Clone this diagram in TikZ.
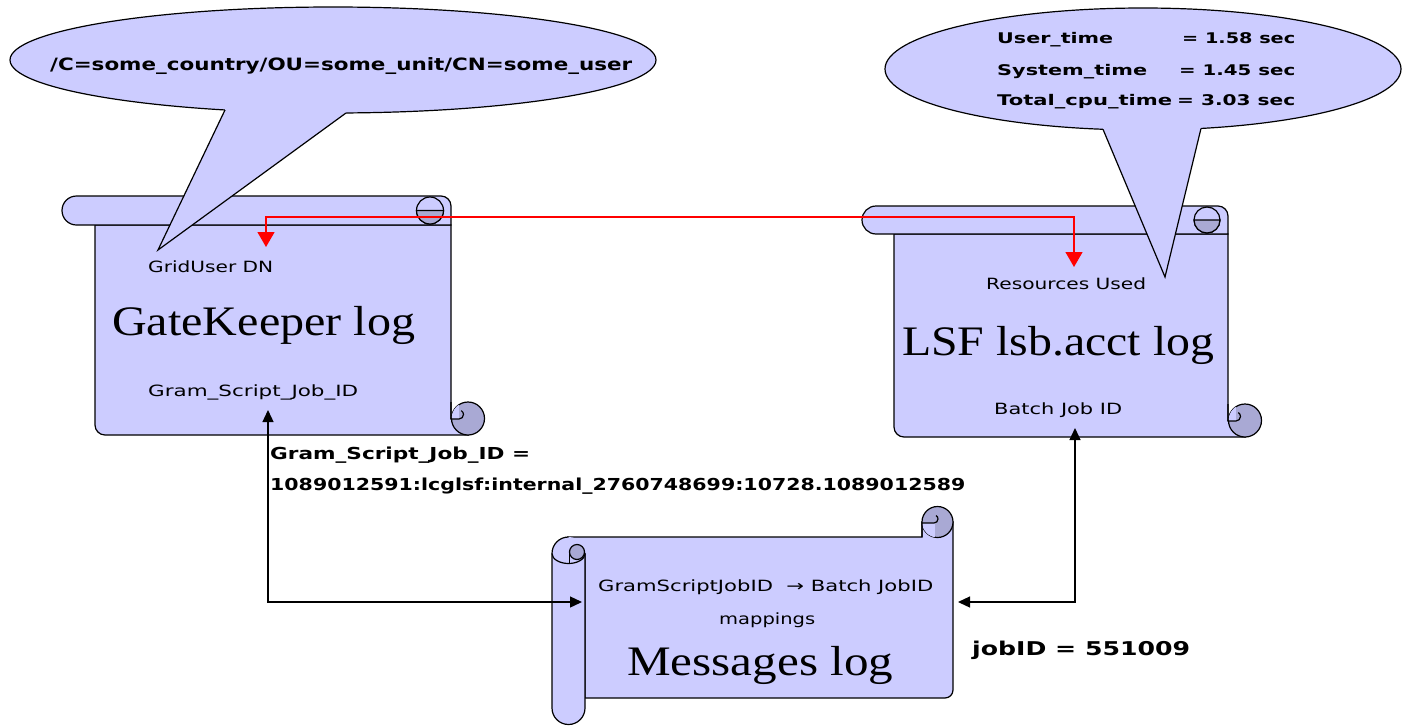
\documentclass[tikz,border=0pt]{standalone}
\usepackage{fontspec}
\setmainfont{Liberation Serif}
\setsansfont{DejaVu Sans}
\usetikzlibrary{arrows.meta}
\definecolor{scrollfill}{HTML}{CCCCFF}
\definecolor{curlfill}{HTML}{A9A9D4}
\newcommand\fitw[2]{\resizebox{#1pt}{\height}{#2}}
\tikzset{
  outline/.style={draw=black, line width=1.2pt},
  lbl/.style={anchor=base west, inner sep=0pt, font=\sffamily\fontsize{15.5}{18}\selectfont},
  blbl/.style={anchor=base west, inner sep=0pt, font=\sffamily\bfseries\fontsize{16.5}{18}\selectfont},
  logtitle/.style={anchor=base west, inner sep=0pt, font=\rmfamily\fontsize{42}{46}\selectfont},
  redarr/.style={draw=red, line width=1.3pt, {Triangle[length=15pt,width=17pt]}-{Triangle[length=15pt,width=17pt]}},
  blkarr/.style={draw=black, line width=1.3pt, {Triangle[length=12pt,width=11pt]}-{Triangle[length=12pt,width=11pt]}},
}
% horizontal scroll: #1 roll left, #2 body left, #3 right, #4 top, #5 roll height, #6 bottom
\newcommand\HScroll[6]{%
  \pgfmathsetmacro\hsh{#5/2}%
  \pgfmathsetmacro\hsc{#5/2-1}%
  \filldraw[fill=scrollfill, outline] (#2,#4+#5) -- (#2,#6-10) arc[start angle=180,end angle=90,radius=10]
     -- (#3+17,#6) -- (#3,#6-16.5) -- (#3,#4+#5) -- cycle;
  \filldraw[fill=curlfill, outline] (#3+17,#6-16.5) circle[radius=16.5];
  \begin{scope}
    \clip (#3+17,#6-16.5) circle[radius=16.5];
    \fill[scrollfill] (#3,#6-34) rectangle (#3+8,#6-16);
  \end{scope}
  \draw[outline] (#3,#6-33) -- (#3,#6-16) -- (#3+8,#6-16) arc[start angle=90,end angle=-60,radius=4.5];
  \filldraw[fill=scrollfill, outline] (#1+\hsh,#4) -- (#3-10,#4) arc[start angle=-90,end angle=0,radius=10]
     -- (#3,#4+#5) -- (#1+\hsh,#4+#5) arc[start angle=90,end angle=270,radius=\hsh] -- cycle;
  \filldraw[fill=scrollfill, outline] (#3-21,#4+\hsh) circle[radius=\hsc];
  \filldraw[fill=curlfill, outline] (#3-21-\hsc,#4+\hsh) arc[start angle=180,end angle=0,radius=\hsc] -- cycle;
}
\begin{document}
\begin{tikzpicture}[x=1pt,y=-1pt]
\useasboundingbox (0,0) rectangle (1403,726);
\fill[white] (0,0) rectangle (1403,726);

% ---- GateKeeper scroll
\HScroll{62}{95}{451}{196}{29}{435}
% ---- LSF scroll
\HScroll{862}{894}{1228}{206}{28}{437}

% ---- Messages scroll (vertical)
\filldraw[fill=scrollfill, outline] (568.5,537) -- (922,537) -- (922,522) -- (953,522) -- (953,690)
   arc[start angle=0,end angle=90,radius=8] -- (585,698) -- (585,553.5) -- cycle;
\filldraw[fill=curlfill, outline] (937.5,522) circle[radius=15.5];
\begin{scope}
  \clip (937.5,522) circle[radius=15.5];
  \fill[scrollfill] (922,523) rectangle (935,539);
\end{scope}
\draw[outline] (922,537) -- (922,523) -- (934,523) arc[start angle=90,end angle=-60,radius=4];
\fill[scrollfill] (552,553.5) arc[start angle=180,end angle=360,radius=16.5] -- (585,708)
   arc[start angle=0,end angle=180,radius=16.5] -- cycle;
\draw[outline] (585,553.5) -- (585,708) arc[start angle=0,end angle=180,radius=16.5] -- (552,553.5)
   arc[start angle=180,end angle=270,radius=16.5];
\draw[outline] (552,553.5) arc[start angle=180,end angle=0,x radius=16.5,y radius=10];
\filldraw[fill=curlfill, outline] (577,552) circle[radius=7.5];
\draw[outline] (569.5,552) -- (569.5,563);

% ---- callouts
\filldraw[fill=scrollfill, outline] (333,60) ellipse[x radius=323, y radius=53];
\fill[scrollfill] (225,110) -- (225,104) -- (346,106) -- (346,113) -- (158,250) -- cycle;
\draw[outline] (225,110) -- (158,250) -- (346,113);

\filldraw[fill=scrollfill, outline] (1143,69) ellipse[x radius=258, y radius=61];
\fill[scrollfill] (1103,129.3) -- (1103,123) -- (1201,122) -- (1201,128.4) -- (1165,277) -- cycle;
\draw[outline] (1103,129.3) -- (1165,277) -- (1201,128.4);

% ---- texts
\node[blbl, font=\sffamily\bfseries\fontsize{17}{18}\selectfont] (dn) at (50,70) {\fitw{582}{/C=some\_country/OU=some\_unit/CN=some\_user}};
\node[blbl, font=\sffamily\bfseries\fontsize{14.7}{16}\selectfont] (ut) at (997,43) {\fitw{116}{User\_time}};
\node[blbl, font=\sffamily\bfseries\fontsize{14.7}{16}\selectfont] (utv) at (1182,43) {\fitw{113}{= 1.58 sec}};
\node[blbl, font=\sffamily\bfseries\fontsize{14.7}{16}\selectfont] (st) at (997,75) {\fitw{150}{System\_time}};
\node[blbl, font=\sffamily\bfseries\fontsize{14.7}{16}\selectfont] (stv) at (1179,75) {\fitw{116}{= 1.45 sec}};
\node[blbl, font=\sffamily\bfseries\fontsize{14.7}{16}\selectfont] (tt) at (997,105) {\fitw{175}{Total\_cpu\_time}};
\node[blbl, font=\sffamily\bfseries\fontsize{14.7}{16}\selectfont] (ttv) at (1177,105) {\fitw{118}{= 3.03 sec}};

\node[lbl] (griduser) at (148,272) {\fitw{125}{GridUser DN}};
\node[logtitle] (gk) at (112,335) {\fitw{303}{GateKeeper log}};
\node[lbl] (gsj) at (148,396) {\fitw{210}{Gram\_Script\_Job\_ID}};

\node[lbl] (res) at (986,289) {\fitw{160}{Resources Used}};
\node[logtitle] (lsf) at (902,355) {\fitw{312}{LSF lsb.acct log}};
\node[lbl] (bj) at (994,414) {\fitw{128}{Batch Job ID}};

\node[lbl] (map1) at (598,591) {\fitw{335}{GramScriptJobID\ \ → Batch JobID}};
\node[lbl] (map2) at (719,624) {\fitw{96}{mappings}};
\node[logtitle] (msg) at (627,675) {\fitw{266}{Messages log}};

\node[blbl] (gsjeq) at (270,459) {\fitw{260}{Gram\_Script\_Job\_ID =}};
\node[blbl] (gsjval) at (270,490) {\fitw{695}{1089012591:lcglsf:internal\_2760748699:10728.1089012589}};
\node[blbl, font=\sffamily\bfseries\fontsize{19}{20}\selectfont] (jobid) at (972,655) {\fitw{218}{jobID = 551009}};

% ---- connectors
\coordinate (gkIn) at (266,247);
\coordinate (lsfIn) at (1074,267);
\draw[redarr] (gkIn) -- ++(0,-30) -| (lsfIn);

\coordinate (gsjTip) at (268,410);
\coordinate (msgL) at (582,602);
\draw[blkarr] (gsjTip) |- (msgL);
\coordinate (bjTip) at (1075,428);
\coordinate (msgR) at (958,602);
\draw[blkarr] (bjTip) |- (msgR);
\end{tikzpicture}
\end{document}
